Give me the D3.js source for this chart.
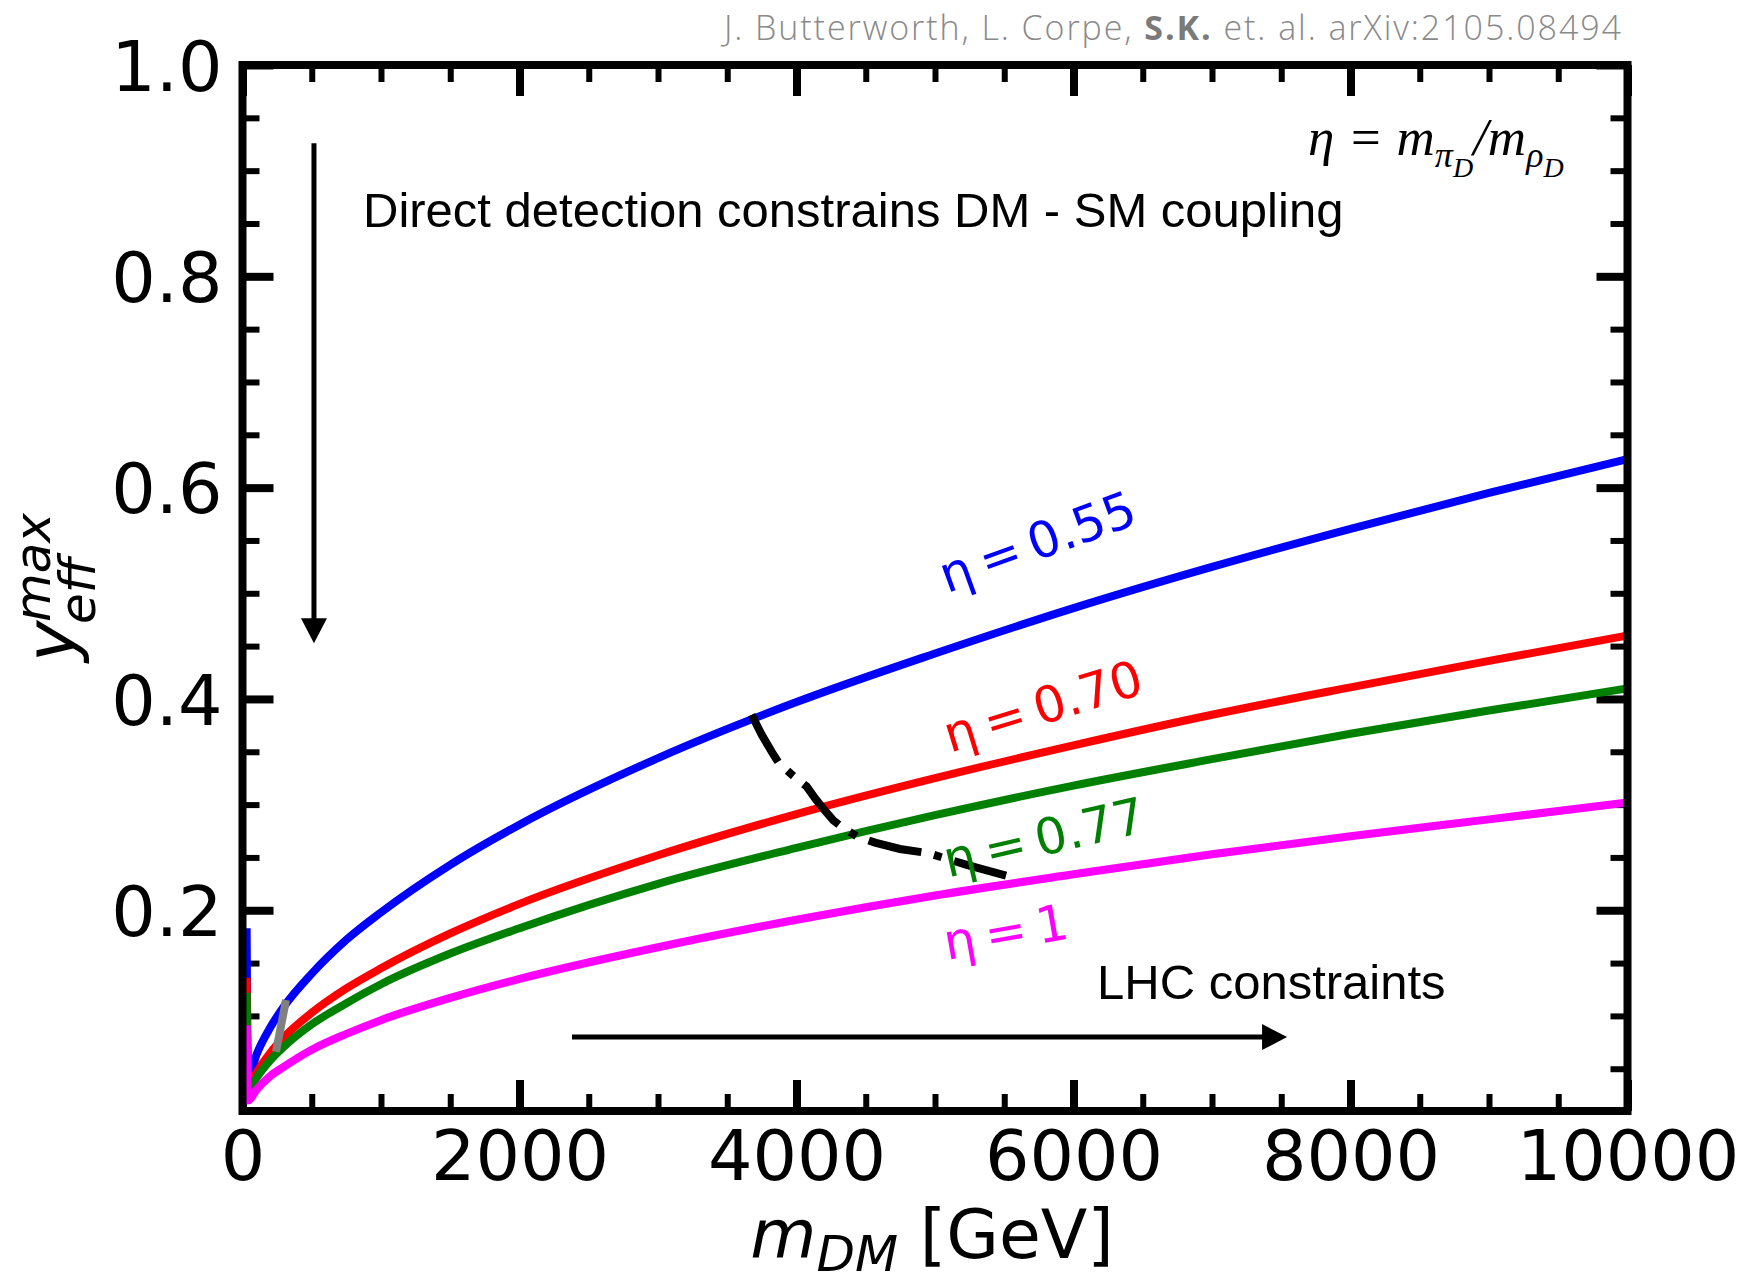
<!DOCTYPE html>
<html>
<head>
<meta charset="utf-8">
<script src="https://cdn.jsdelivr.net/npm/d3@7"></script>
<style>
  body { margin: 0; background: #fff; }
  svg { display: block; }
</style>
</head>
<body>
<svg id="chart"></svg>
<script>
const mass = [30, 40, 100, 200, 300, 500, 750, 1000, 1500, 2000, 3000, 4000, 5000, 6000, 7000, 8000, 9000, 10000];
const yEta055 = [0.183, 0.040, 0.063, 0.089, 0.109, 0.140, 0.172, 0.198, 0.243, 0.281, 0.344, 0.397, 0.443, 0.486, 0.525, 0.561, 0.595, 0.627];
const yEta070 = [0.136, 0.030, 0.046, 0.065, 0.080, 0.103, 0.126, 0.145, 0.178, 0.206, 0.252, 0.291, 0.325, 0.356, 0.385, 0.411, 0.436, 0.460];
const yEta077 = [0.122, 0.027, 0.041, 0.058, 0.071, 0.092, 0.112, 0.130, 0.159, 0.183, 0.225, 0.259, 0.290, 0.318, 0.343, 0.367, 0.389, 0.410];
const yEta1   = [0.091, 0.020, 0.030, 0.043, 0.052, 0.068, 0.083, 0.096, 0.117, 0.135, 0.165, 0.191, 0.214, 0.234, 0.253, 0.270, 0.286, 0.302];

// dash-dot boundary
const boundMass = [3676, 3749, 3821, 3869, 3977, 4074, 4134, 4194, 4266, 4326, 4435, 4567, 4747, 4952, 5229, 5590];
const boundY    = [0.385, 0.366, 0.350, 0.340, 0.327, 0.317, 0.306, 0.296, 0.285, 0.279, 0.270, 0.264, 0.258, 0.254, 0.243, 0.230];

// short grey segment near the origin
const greyMass = [242, 314];
const greyY    = [0.066, 0.115];

const seriesNames = ["η\u2009=\u20090.55", "η\u2009=\u20090.70", "η\u2009=\u20090.77", "η\u2009=\u20091"];

const xMajorTicks = [0, 2000, 4000, 6000, 8000, 10000];
const xMinorTicks = [500, 1000, 1500, 2500, 3000, 3500, 4500, 5000, 5500, 6500, 7000, 7500, 8500, 9000, 9500];
const yMajorTicks = [0.2, 0.4, 0.6, 0.8, 1.0];
const yMinorTicks = [0.05, 0.1, 0.15, 0.25, 0.3, 0.35, 0.45, 0.5, 0.55, 0.65, 0.7, 0.75, 0.85, 0.9, 0.95];

function drawChart() {
    const width = 1741;
    const height = 1274;
    const left = 242.5, right = 1627.5, top = 65, bottom = 1111;

    const svg = d3.select('#chart')
        .attr('width', width)
        .attr('height', height);

    const xScale = d3.scaleLinear().domain([0, 10000]).range([left, right]);
    const yScale = d3.scaleLinear().domain([0.01, 1.0]).range([bottom, top]);

    svg.append('defs').append('clipPath')
        .attr('id', 'plot-clip')
        .append('rect')
        .attr('x', left).attr('y', top)
        .attr('width', right - left).attr('height', bottom - top);

    // ticks, inward on all four sides
    function ticks(axis, pos, values, size, sw, labels) {
        const g = svg.append('g')
            .attr('transform', pos)
            .call(axis.tickValues(values).tickSize(-size))
            .attr('font-family', 'DejaVu Sans')
            .attr('font-size', 70);
        g.select('.domain').remove();
        g.selectAll('line').attr('stroke-width', sw);
        g.selectAll('text').attr('fill', '#000');
        if (!labels) g.selectAll('text').remove();
        return g;
    }
    ticks(d3.axisBottom(xScale).tickPadding(19).tickFormat(d3.format('d')), `translate(0,${bottom})`, xMajorTicks, 31, 8, true);
    ticks(d3.axisBottom(xScale), `translate(0,${bottom})`, xMinorTicks, 17, 6, false);
    ticks(d3.axisTop(xScale), `translate(0,${top})`, xMajorTicks, 31, 8, false);
    ticks(d3.axisTop(xScale), `translate(0,${top})`, xMinorTicks, 17, 6, false);
    ticks(d3.axisLeft(yScale).tickPadding(20).tickFormat(d3.format('.1f')), `translate(${left},0)`, yMajorTicks, 31, 8, true)
        .selectAll('text').attr('dy', '0.36em');
    ticks(d3.axisLeft(yScale), `translate(${left},0)`, yMinorTicks, 17, 6, false);
    ticks(d3.axisRight(yScale), `translate(${right},0)`, yMajorTicks, 31, 8, false);
    ticks(d3.axisRight(yScale), `translate(${right},0)`, yMinorTicks, 17, 6, false);

    const plot = svg.append('g').attr('clip-path', 'url(#plot-clip)');

    const line = d3.line()
        .x(d => xScale(d[0]))
        .y(d => yScale(d[1]))
        .curve(d3.curveMonotoneX);

    const colors = ['#0000ff', '#ff0000', '#008000', '#ff00ff'];
    const curves = [yEta055, yEta070, yEta077, yEta1];
    curves.forEach((ys, i) => {
        plot.append('path')
            .datum(d3.zip(mass, ys))
            .attr('d', line)
            .attr('fill', 'none')
            .attr('stroke', colors[i])
            .attr('stroke-width', 8);
    });

    plot.append('path')
        .datum(d3.zip(greyMass, greyY))
        .attr('d', d3.line().x(d => xScale(d[0])).y(d => yScale(d[1])))
        .attr('fill', 'none')
        .attr('stroke', '#808080')
        .attr('stroke-width', 8);

    // curve labels
    const labelPos = [[5087, 0.500, -20], [5108, 0.349, -17], [5094, 0.231, -13], [5087, 0.153, -10]];
    labelPos.forEach((p, i) => {
        svg.append('text')
            .attr('transform', `translate(${xScale(p[0])},${yScale(p[1])}) rotate(${p[2]})`)
            .attr('font-family', 'DejaVu Sans')
            .attr('font-size', 50)
            .attr('fill', colors[i])
            .text(seriesNames[i]);
    });

    plot.append('path')
        .datum(d3.zip(boundMass, boundY))
        .attr('d', d3.line().x(d => xScale(d[0])).y(d => yScale(d[1])))
        .attr('fill', 'none')
        .attr('stroke', '#000')
        .attr('stroke-width', 8)
        .attr('stroke-dasharray', '54 13 8 13');

    // frame
    svg.append('rect')
        .attr('x', left).attr('y', top)
        .attr('width', right - left).attr('height', bottom - top)
        .attr('fill', 'none')
        .attr('stroke', '#000')
        .attr('stroke-width', 8);

    // arrows
    function arrow(x1, y1, x2, y2) {
        const ax = xScale(x1), ay = yScale(y1), bx = xScale(x2), by = yScale(y2);
        const len = Math.hypot(bx - ax, by - ay);
        const ux = (bx - ax) / len, uy = (by - ay) / len;
        const hl = 25, hw = 13;
        const cx = bx - ux * hl, cy = by - uy * hl;
        svg.append('line')
            .attr('x1', ax).attr('y1', ay).attr('x2', cx + ux * 2).attr('y2', cy + uy * 2)
            .attr('stroke', '#000').attr('stroke-width', 5);
        svg.append('path')
            .attr('d', `M${bx},${by}L${cx - uy * hw},${cy + ux * hw}L${cx + uy * hw},${cy - ux * hw}Z`)
            .attr('fill', '#000');
    }
    arrow(516, 0.926, 516, 0.4527);
    arrow(2379, 0.080, 7542, 0.080);

    svg.append('text')
        .attr('x', 363).attr('y', 227)
        .attr('font-family', 'Liberation Sans, Arial, sans-serif')
        .attr('font-size', 49)
        .text('Direct detection constrains DM - SM coupling');

    svg.append('text')
        .attr('x', 1097).attr('y', 999)
        .attr('font-family', 'Liberation Sans, Arial, sans-serif')
        .attr('font-size', 49)
        .text('LHC constraints');

    // eta definition
    const def = svg.append('text')
        .attr('x', 1308).attr('y', 155)
        .attr('font-family', 'Liberation Serif, Times New Roman, serif')
        .attr('font-style', 'italic')
        .attr('font-size', 53);
    def.append('tspan').text('η = m');
    def.append('tspan').attr('font-size', 36).attr('dy', 12).text('π');
    def.append('tspan').attr('font-size', 28).attr('dy', 10).text('D');
    def.append('tspan').attr('dy', -22).text('/m');
    def.append('tspan').attr('font-size', 36).attr('dy', 12).text('ρ');
    def.append('tspan').attr('font-size', 28).attr('dy', 10).text('D');

    // axis titles
    const xt = svg.append('text')
        .attr('x', (left + right) / 2 - 3).attr('y', 1258)
        .attr('text-anchor', 'middle')
        .attr('font-family', 'DejaVu Sans')
        .attr('font-size', 68);
    xt.append('tspan').attr('font-style', 'italic').text('m');
    xt.append('tspan').attr('font-style', 'italic').attr('font-size', 50).attr('dy', 13).text('DM');
    xt.append('tspan').attr('dy', -13).text(' [GeV]');

    const yt = svg.append('g')
        .attr('transform', 'translate(75,662) rotate(-90)')
        .attr('font-family', 'DejaVu Sans')
        .attr('font-style', 'italic');
    yt.append('text').attr('font-size', 70).text('y');
    yt.append('text').attr('x', 40).attr('y', -25).attr('font-size', 50).text('max');
    yt.append('text').attr('x', 38).attr('y', 20).attr('font-size', 50).text('eff');

    // credit line
    const credit = svg.append('text')
        .attr('x', 1621).attr('y', 40)
        .attr('text-anchor', 'end')
        .attr('font-family', 'Open Sans, Lato, sans-serif')
        .attr('font-weight', 300)
        .attr('font-size', 34)
        .attr('textLength', 897)
        .attr('lengthAdjust', 'spacing')
        .attr('fill', '#8a8a8a');
    credit.append('tspan').text('J. Butterworth, L. Corpe, ');
    credit.append('tspan').attr('font-weight', 700).attr('fill', '#7a7a7a').text('S.K.');
    credit.append('tspan').text(' et. al. arXiv:2105.08494');
}

drawChart();
</script>
</body>
</html>
